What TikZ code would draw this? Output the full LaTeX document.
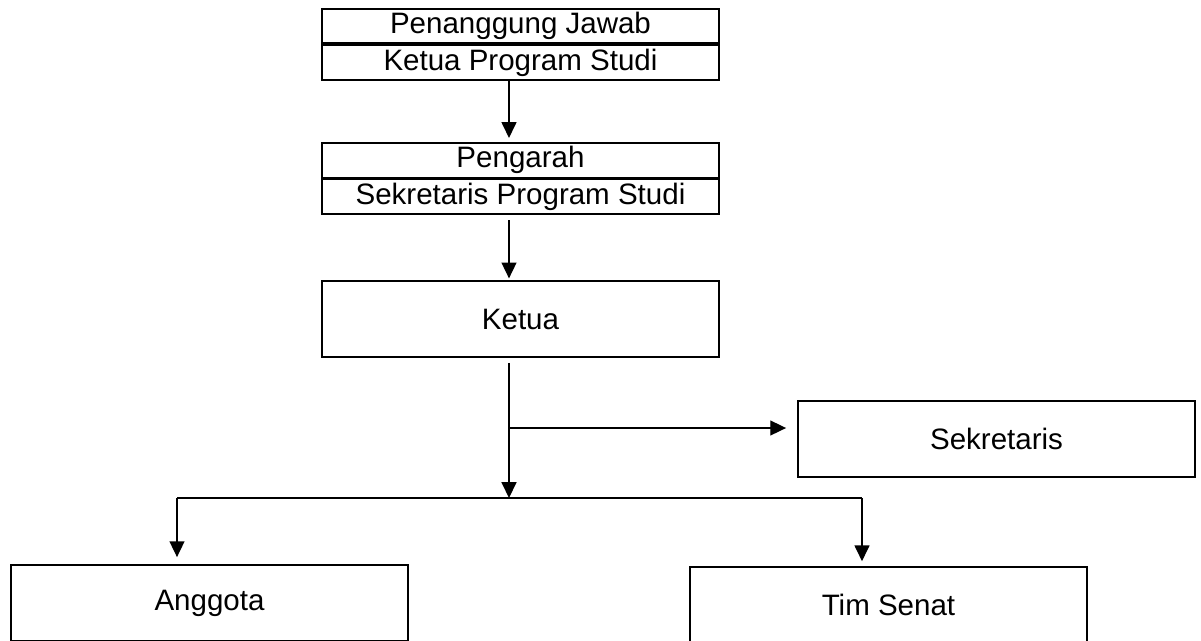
\documentclass[tikz,border=0pt]{standalone}
\usepackage{fontspec}
\setmainfont{Liberation Sans}
\usetikzlibrary{arrows.meta,positioning}

\tikzset{
  kotak/.style={draw,line width=1pt,minimum width=7.94cm,minimum height=1.52cm,inner sep=0pt,font=\fontsize{16.8}{19}\selectfont},
  baris/.style={kotak,minimum height=0.69cm},
  panah/.style={line width=0.8pt,-{Triangle[length=9pt,width=8.5pt]}},
  garis/.style={line width=0.8pt}
}

\begin{document}
\begin{tikzpicture}[x=0.02cm,y=-0.02cm]
\useasboundingbox (0,0) rectangle (1201,640);
\clip (0,0) rectangle (1201,640);

% kotak atas
\node[baris, anchor=north] (pjA) at (520.5,8) {Penanggung Jawab};
\node[baris, below=0pt of pjA] (pjB) {Ketua Program Studi};

\node[baris, anchor=north] (pengA) at (520.5,142) {Pengarah};
\node[baris, below=0pt of pengA] (pengB) {Sekretaris Program Studi};

\node[kotak] (ketua) at (520.5,319) {Ketua};
\node[kotak] (sekr) at (996.5,439) {Sekretaris};

\node[kotak] (anggota) at (209.5,603) {Anggota};
\node[kotak] (senat) at (888.5,605) {Tim Senat};

% titik cabang
\coordinate (fork) at (509,428);
\coordinate (hub) at (509,498);
\coordinate (lft) at (177,498);
\coordinate (rgt) at (862,498);

\draw[panah, shorten >=2.3pt] (pjB.south -| hub) -- (pengA.north -| hub);
\draw[panah, shorten <=3.4pt, shorten >=1pt] (pengB.south -| hub) -- (ketua.north -| hub);
\draw[panah, shorten <=2.8pt] (ketua.south -| hub) -- (hub);
\draw[panah, shorten >=6.3pt] (fork) -- (sekr.west |- fork);

\draw[garis] (lft) -- (rgt);
\draw[panah, shorten >=4pt] (lft) -- (anggota.north -| lft);
\draw[panah, shorten >=2.8pt] (rgt) -- (senat.north -| rgt);

\end{tikzpicture}
\end{document}
